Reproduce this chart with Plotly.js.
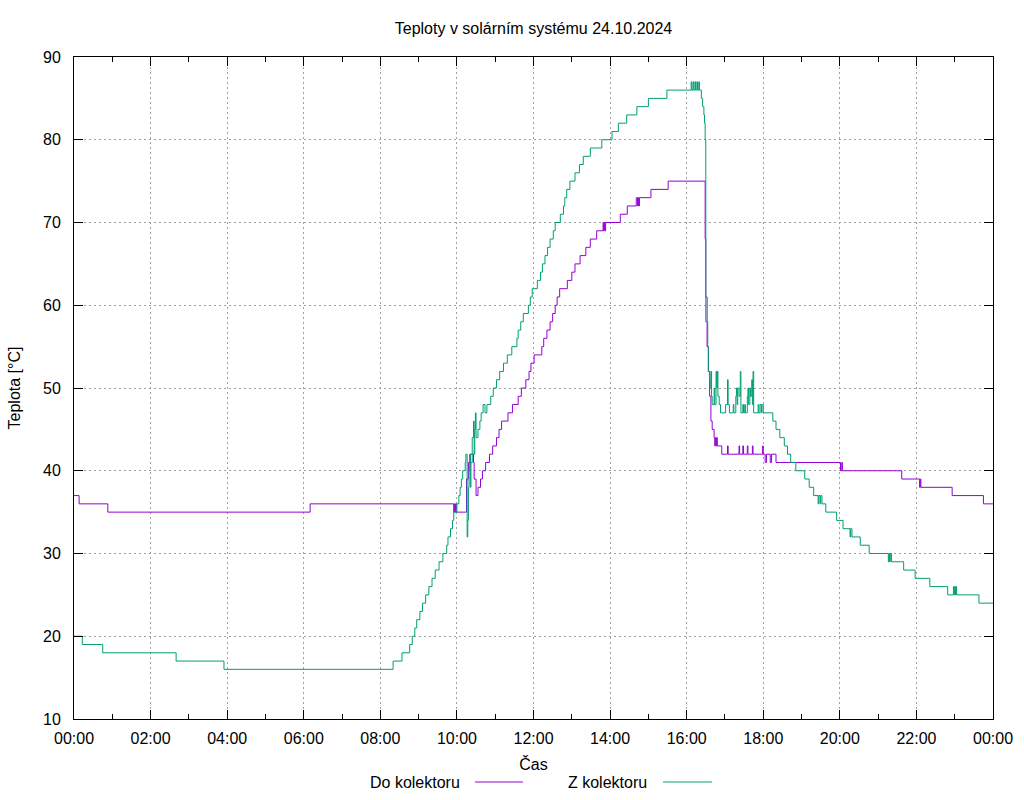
<!DOCTYPE html>
<html>
<head>
<meta charset="utf-8">
<script src="https://cdn.plot.ly/plotly-3.0.1.min.js"></script>
<style>
  html, body { margin: 0; padding: 0; background: #fff; }
  #chart { width: 1024px; height: 800px; }
</style>
</head>
<body>
<div id="chart"></div>
<script>
// Teploty v solárním systému (čas HH:MM, teplota °C)

const day = '2024-10-24';

// Do kolektoru (fialová)
const doTimes = ['00:00','00:08','00:53','06:10','09:55','09:56','09:57','09:58','09:59','10:15',
  '10:18','10:21','10:26','10:27','10:30','10:33','10:37','10:40','10:45','10:51',
  '10:56','11:02','11:06','11:10','11:20','11:27','11:36','11:41','11:48','11:53',
  '11:56','12:01','12:13','12:16','12:21','12:26','12:30','12:34','12:37','12:41',
  '12:53','13:00','13:05','13:13','13:22','13:29','13:39','13:49','13:50','13:51',
  '13:52','13:53','14:16','14:27','14:41','14:43','14:44','14:45','14:46','15:04',
  '15:31','16:29','16:30','16:32','16:34','16:36','16:38','16:40','16:43','16:44',
  '16:45','16:46','16:47','16:48','16:55','17:04','17:05','17:22','17:23','17:28',
  '17:29','17:35','17:36','17:43','17:44','17:59','18:00','18:03','18:05','18:11',
  '18:13','18:20','20:01','20:03','20:04','21:37','22:05','22:06','22:07','22:56',
  '23:45','24:00'];
const doVals = [37,36,35,36,35,36,35,36,35,39,
  41,42,41,39,37,38,39,40,41,42,
  43,44,45,46,47,48,49,50,51,52,
  53,54,55,56,57,58,59,60,61,62,
  63,64,65,66,67,68,69,70,69,70,
  69,70,71,72,73,72,73,72,73,74,
  75,68,61,55,52,49,46,45,44,43,
  44,43,44,43,42,43,42,43,42,43,
  42,43,42,43,42,43,42,41,42,41,
  42,41,40,41,40,39,38,39,38,37,
  36,36];

// Z kolektoru (zelená)
const zTimes = ['00:00','00:13','00:45','02:40','03:55','08:20','08:34','08:46','08:50','08:54',
  '08:57','09:02','09:06','09:11','09:16','09:21','09:26','09:32','09:38','09:44',
  '09:46','09:50','09:53','09:55','10:00','10:03','10:05','10:07','10:09','10:13',
  '10:14','10:16','10:17','10:18','10:19','10:20','10:21','10:22','10:24','10:26',
  '10:27','10:28','10:29','10:30','10:33','10:36','10:38','10:41','10:44','10:47',
  '10:53','10:57','11:02','11:07','11:13','11:19','11:26','11:34','11:36','11:40',
  '11:44','11:52','11:55','11:58','12:06','12:11','12:14','12:18','12:22','12:26',
  '12:31','12:34','12:42','12:47','12:49','12:52','12:57','13:05','13:12','13:18',
  '13:29','13:47','14:03','14:13','14:26','14:42','15:00','15:29','16:07','16:08',
  '16:10','16:11','16:13','16:14','16:16','16:17','16:19','16:20',
  '16:23','16:25','16:27','16:28','16:29','16:30','16:33','16:34','16:36','16:37',
  '16:38','16:39','16:40','16:43','16:44','16:46','16:47','16:48','16:49','16:51',
  '16:53','17:01','17:04','17:05','17:07','17:13','17:14','17:17','17:18','17:19',
  '17:20','17:22','17:24','17:25','17:28','17:29','17:31','17:32','17:35','17:36',
  '17:37','17:39','17:40','17:42','17:43','17:44','17:45','17:52','17:53','17:55',
  '17:57','17:58','18:00','18:15','18:20','18:26','18:33','18:38','18:43','18:51',
  '19:05','19:12','19:19','19:26','19:27','19:29','19:30','19:32','19:38','19:55',
  '20:05','20:16','20:17','20:19','20:32','20:46','21:16','21:17','21:18','21:19',
  '21:21','21:40','21:58','22:21','22:49','22:58','22:59','23:00','23:01','23:02',
  '23:03','23:38','24:00'];
const zVals = [20,19,18,17,16,17,18,19,20,21,
  22,23,24,25,26,27,28,29,30,31,
  32,33,34,35,36,37,38,39,40,41,
  42,32,34,38,40,42,38,41,44,46,
  42,45,47,44,45,46,47,48,47,48,
  49,50,51,52,53,54,55,56,57,58,
  59,60,61,62,63,64,65,66,67,68,
  69,70,71,72,73,74,75,76,77,78,
  79,80,81,82,83,84,85,86,87,86,
  87,86,87,86,87,86,87,86,
  85,84,83,82,80,58,55,52,50,51,
  52,49,48,50,48,52,50,52,49,48,
  47,48,51,48,47,48,47,49,50,48,
  50,49,52,47,48,47,48,47,49,50,
  48,50,49,51,48,52,47,48,47,48,
  47,48,47,46,45,44,43,42,41,40,
  39,38,37,36,37,36,37,36,35,34,
  33,32,33,32,31,30,29,30,29,30,
  29,28,27,26,25,26,25,26,25,26,
  25,24,24];

const xTickVals = ['00:00','02:00','04:00','06:00','08:00','10:00','12:00','14:00','16:00','18:00','20:00','22:00','24:00'];

// "24:00" patří už k následujícímu dni
function toX(t) {
    if (t === '24:00') return '2024-10-25 00:00';
    return day + ' ' + t;
}

const fontFamily = '"Liberation Sans", Arial, sans-serif';
const gridColor = '#a0a0a0';

const plotData = [
    {
        x: doTimes.map(toX),
        y: doVals,
        type: 'scatter',
        mode: 'lines',
        name: 'Do kolektoru',
        line: { color: '#9400d3', width: 1, shape: 'hv' },
        showlegend: false
    },
    {
        x: zTimes.map(toX),
        y: zVals,
        type: 'scatter',
        mode: 'lines',
        name: 'Z kolektoru',
        line: { color: '#009e73', width: 1, shape: 'hv' },
        showlegend: false
    }
];

const layout = {
    width: 1024,
    height: 800,
    title: {
        text: 'Teploty v solárním systému 24.10.2024',
        font: { size: 16, family: fontFamily, color: '#000' },
        x: 0.5,
        xref: 'paper',
        xanchor: 'center',
        y: 1 - 28 / 800,
        yanchor: 'middle',
        yref: 'container'
    },
    xaxis: {
        type: 'date',
        range: [toX('00:00'), toX('24:00')],
        tickvals: xTickVals.map(toX),
        ticktext: xTickVals.map(t => t === '24:00' ? '00:00' : t),
        title: { text: 'Čas', font: { size: 16, family: fontFamily }, standoff: 12 },
        showline: true,
        linecolor: '#000',
        linewidth: 1,
        mirror: 'allticks',
        ticks: 'inside',
        ticklen: 9,
        tickcolor: '#000',
        ticklabelstandoff: 5,
        showgrid: true,
        gridcolor: gridColor,
        griddash: '2px,3px',
        gridwidth: 1,
        minor: {
            dtick: 3600000,
            ticks: 'inside',
            ticklen: 5,
            tickcolor: '#000',
            showgrid: false
        },
        zeroline: false,
        automargin: false
    },
    yaxis: {
        range: [10, 90],
        dtick: 10,
        title: { text: 'Teplota [°C]', font: { size: 16, family: fontFamily }, standoff: 18 },
        showline: true,
        linecolor: '#000',
        linewidth: 1,
        mirror: 'allticks',
        ticks: 'inside',
        ticklen: 9,
        tickcolor: '#000',
        ticklabelstandoff: 9,
        showgrid: true,
        gridcolor: gridColor,
        griddash: '2px,3px',
        gridwidth: 1,
        zeroline: false,
        automargin: false
    },
    annotations: [
        {
            text: 'Do kolektoru', xref: 'paper', yref: 'paper',
            x: (462 - 74) / 919, y: (719 - 782) / 662,
            xanchor: 'right', yanchor: 'middle', showarrow: false,
            font: { size: 16, family: fontFamily, color: '#000' }
        },
        {
            text: 'Z kolektoru', xref: 'paper', yref: 'paper',
            x: (649 - 74) / 919, y: (719 - 782) / 662,
            xanchor: 'right', yanchor: 'middle', showarrow: false,
            font: { size: 16, family: fontFamily, color: '#000' }
        }
    ],
    shapes: [
        {
            type: 'line', xref: 'paper', yref: 'paper',
            x0: (475 - 74) / 919, x1: (523 - 74) / 919,
            y0: (719 - 782) / 662, y1: (719 - 782) / 662,
            line: { color: '#9400d3', width: 1 }
        },
        {
            type: 'line', xref: 'paper', yref: 'paper',
            x0: (663 - 74) / 919, x1: (712 - 74) / 919,
            y0: (719 - 782) / 662, y1: (719 - 782) / 662,
            line: { color: '#009e73', width: 1 }
        }
    ],
    font: { family: fontFamily, size: 16, color: '#000' },
    plot_bgcolor: 'white',
    paper_bgcolor: 'white',
    margin: { t: 57, r: 31, b: 81, l: 74 }
};

Plotly.newPlot('chart', plotData, layout, { staticPlot: true, displayModeBar: false });
</script>
</body>
</html>
